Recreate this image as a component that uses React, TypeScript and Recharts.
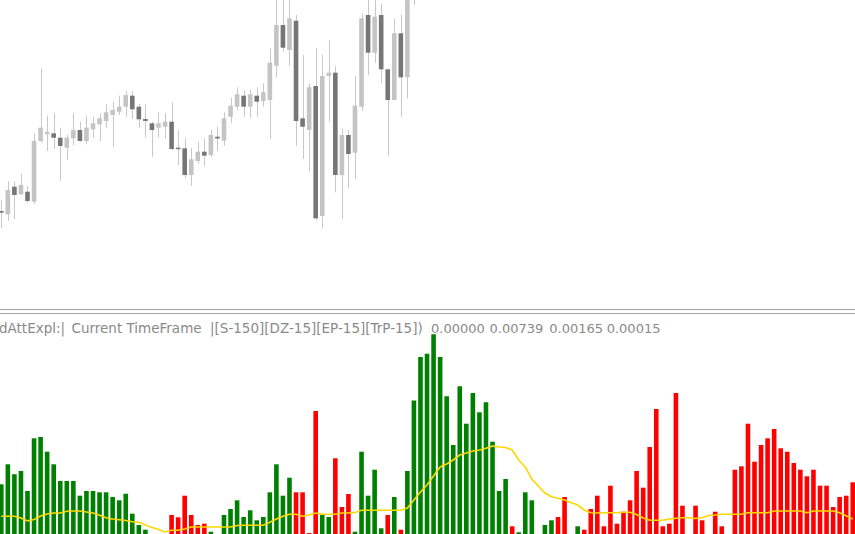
import React from 'react';
import { ComposedChart, Bar, Line, XAxis, YAxis, Cell } from 'recharts';

// ---- Indicator histogram (131 bars) ----
const strength = [
  49.7, 69.7, 59.7, 63, 43, 95.7, 97, 82.3, 69.7, 53,
  53, 53, 38.3, 43, 43, 41.7, 41.7, 37, 33.7, 40.3,
  20.3, 9, 4.3, 0, 0, 0, 19, 16.7, 38.3, 19,
  9, 10.3, 2.3, 0, 19, 25, 33.7, 17, 23.7, 13.7,
  17, 41.7, 69.7, 38.3, 56.3, 41.7, 41.7, 1, 123, 19,
  17, 75.7, 27, 40, 2.3, 82.3, 38.3, 64.3, 5.7, 19,
  37, 4.3, 63, 133.5, 177, 180.3, 199.7, 177, 137.7, 89,
  147.7, 110.3, 141, 121.7, 131.7, 92.3, 43, 55, 7.7, 1.7,
  41.7, 33.7, 0, 9, 13.7, 17, 37, 0, 7.7, 4.3,
  25, 38.3, 7.7, 48.3, 10.3, 22.3, 33.7, 63, 46.3, 87,
  125, 7.7, 10.3, 141, 28.3, 0, 28.3, 13.7, 0, 22.3,
  7.7, 0, 64.3, 67.7, 110.3, 72.3, 89, 95.7, 105, 85.7,
  82.3, 71, 64.3, 57.7, 64.3, 48.3, 48.3, 27, 37, 38.3,
  51.7,
];

// G = bullish (green), R = bearish (red), - = none
const direction =
  'GGGGGGGGGG' +
  'GGGGGGGGGG' +
  'GGG---RRRR' +
  'RRG-GGGGGG' +
  'GGGGGRRRRG' +
  'GRRRGGGGGR' +
  'GRGGGGGGGG' +
  'GGGGGGGGRG' +
  'GG-GGRR-GR' +
  'RRRRRRRRRR' +
  'RRRRR-RR-R' +
  'R-RRRRRRRR' +
  'RRRRRRRRRR' +
  'R';

const signal = [
  17.7, 17.7, 17.7, 16, 13, 14.5, 18, 20, 21, 21,
  22.7, 23, 23, 22, 21, 18.7, 16.3, 15, 14.3, 13.5,
  12.3, 11.7, 9, 6.5, 4.5, 2, 3.7, 3.7, 5, 7,
  7, 7, 7, 7, 7, 7, 8.5, 8.7, 8.7, 8.7,
  8.7, 11.7, 15, 17.7, 19.7, 19.7, 17.7, 19, 21, 19.7,
  19.7, 19.7, 21, 21, 21.5, 23.7, 23.7, 23.7, 23.7, 23.7,
  23.7, 23.7, 26, 34, 42, 49, 58, 67, 70, 74,
  79, 81, 83, 84, 85.7, 88, 87, 86.5, 84, 74,
  67, 55, 48, 41, 37.3, 35.7, 34, 31.5, 29, 24,
  21.3, 21, 21.3, 21.3, 21.3, 21.7, 21.7, 19.5, 16, 13.7,
  13.7, 13.7, 15, 15.7, 16.3, 16.3, 15.5, 16.3, 18.5, 19,
  19.7, 19.7, 19.7, 19.7, 21.3, 21.3, 21.3, 21.3, 23, 23,
  23, 23, 23, 21.3, 23, 23, 23, 23, 21.3, 18.3,
  15,
];

// ---- Price candles (first 64 visible) ----
const opens = [
  29, 25.7, 53.3, 45.7, 48.3, 38.3, 99, 105.7, 106.7, 102.3,
  92.3, 101.7, 110, 99, 110.7, 115.7, 119, 125, 128.3, 133.3,
  144.3, 133.3, 121, 116.7, 112.3, 113.3, 118.3, 92.3, 91.7, 65,
  79, 88.3, 85, 103.3, 99.3, 123.3, 133.3, 144.3, 133.3, 144.3,
  139, 140, 174.3, 215, 190, 219.3, 121.7, 110, 154, 24,
  164, 167.3, 65, 105, 87.3, 133.3, 225, 187.3, 225, 170.7,
  140, 206.7, 162.7, 250,
];
const highs = [
  40, 59, 58.3, 66, 54, 106.7, 171.7, 124.3, 126.7, 112.3,
  105, 126.7, 118.3, 124.3, 123.3, 126.7, 136, 138.3, 144.3, 149.3,
  149.3, 136, 135.7, 118.3, 127.7, 126.7, 137.7, 110, 101.7, 91.7,
  98.3, 101.7, 110, 113.3, 127.7, 142.3, 152.7, 150, 150.7, 152.7,
  156.7, 191.7, 245, 245, 246, 225, 185, 156.7, 191.7, 185,
  200, 174, 111.7, 110, 164, 226.7, 250, 250, 236, 170.7,
  221, 225, 265, 275,
];
const lows = [
  12, 19.3, 21, 45, 37.3, 36, 97.3, 89, 91, 59.3,
  80, 95, 98.3, 95.7, 102.3, 99, 112.3, 92.7, 125, 123.3,
  121, 112.3, 102.7, 83.3, 102.7, 101, 90, 75, 61.7, 54,
  76.7, 74, 83, 89, 94.3, 116.7, 130, 123.3, 121.7, 123.3,
  133.3, 101, 162.7, 188.3, 174.3, 94.3, 81, 68.3, 20, 11.7,
  118.3, 47.7, 20.7, 51.7, 61, 129, 165, 177.3, 156.7, 84.3,
  140, 123.3, 141.7, 235,
];
const closes = [
  27.3, 50, 45, 55, 39, 99, 112.3, 108.3, 102.3, 94,
  102.3, 110, 99, 112.3, 116.7, 121.7, 127.7, 130, 133.3, 145,
  130.7, 120.7, 119, 110, 116.7, 118.3, 91, 91, 65, 80.7,
  88.3, 84.3, 105, 101.5, 121.7, 134.3, 145.7, 133.3, 145.7, 138.3,
  147.7, 177.3, 215, 192.3, 221.7, 119, 113.3, 152.7, 21.7, 164,
  167.3, 65, 105, 86, 134.3, 221.7, 187.3, 223.3, 170.7, 140,
  206.7, 162.7, 250, 260,
];

const header = [
  { text: 'dAttExpl:|', x: -1, size: 13.5 },
  { text: 'Current TimeFrame', x: 71.5, size: 13.5 },
  { text: '|[S-150][DZ-15][EP-15][TrP-15])', x: 210, size: 13.5 },
  { text: '0.00000', x: 431, size: 13 },
  { text: '0.00739', x: 489.5, size: 13 },
  { text: '0.00165', x: 549.3, size: 13 },
  { text: '0.00015', x: 606.7, size: 13 },
];

const data = strength.map((v, i) => {
  const has = i < opens.length;
  return {
    i,
    strength: v,
    dir: direction[i],
    signal: signal[i],
    open: has ? opens[i] : null,
    high: has ? highs[i] : null,
    low: has ? lows[i] : null,
    close: has ? closes[i] : null,
    range: has ? [lows[i], highs[i]] : null,
  };
});

const LIGHT = '#c4c4c4';
const DARK = '#767676';
const WICK = '#c8c8c8';

const Candle = (props: any) => {
  const { x, y, width, height, payload } = props;
  if (!payload || payload.open == null || height == null) return null;
  const { open, close, high, low } = payload;
  const top = Math.min(y, y + height);
  const h = Math.abs(height);
  const k = high !== low ? h / (high - low) : 0;
  const yOf = (v: number) => top + (high - v) * k;
  const bull = close >= open;
  const bTop = yOf(Math.max(open, close));
  const bBot = yOf(Math.min(open, close));
  const cx = Math.round(x + width / 2) + 0.5;
  return (
    <g>
      <line x1={cx} x2={cx} y1={top} y2={top + h} stroke={WICK} strokeWidth={1} />
      <rect
        x={x}
        y={bTop}
        width={width}
        height={Math.max(1.5, bBot - bTop)}
        fill={bull ? LIGHT : DARK}
      />
    </g>
  );
};

const CHART_W = 858;

export default function App() {
  return (
    <div
      style={{
        position: 'fixed',
        left: 0,
        top: 0,
        width: 855,
        height: 534,
        overflow: 'hidden',
        background: '#ffffff',
      }}
    >
      <div style={{ position: 'absolute', left: -2, top: 0 }}>
        <ComposedChart
          width={CHART_W}
          height={240}
          data={data}
          margin={{ top: 0, right: 0, bottom: 0, left: 0 }}
          barCategoryGap={0}
        >
          <XAxis dataKey="i" hide type="category" />
          <YAxis hide domain={[0, 240]} allowDataOverflow />
          <Bar
            dataKey="range"
            barSize={4.6}
            isAnimationActive={false}
            shape={Candle}
          />
        </ComposedChart>
      </div>

      <div style={{ position: 'absolute', left: 0, top: 309, width: 855, height: 1, background: '#a0a0a0' }} />
      <div style={{ position: 'absolute', left: 0, top: 313, width: 855, height: 1, background: '#a6a6a6' }} />

      <svg
        width={855}
        height={20}
        style={{ position: 'absolute', left: 0, top: 318 }}
      >
        {header.map((h) => (
          <text
            key={h.text}
            x={h.x}
            y={15.3}
            fontFamily="DejaVu Sans"
            fontSize={h.size}
            fill="#8a8a8a"
          >
            {h.text}
          </text>
        ))}
      </svg>

      <div style={{ position: 'absolute', left: -2, top: 319 }}>
        <ComposedChart
          width={CHART_W}
          height={215}
          data={data}
          margin={{ top: 0, right: 0, bottom: 0, left: 0 }}
        >
          <XAxis dataKey="i" hide type="category" />
          <YAxis hide domain={[0, 215]} allowDataOverflow />
          <Bar dataKey="strength" barSize={4.6} isAnimationActive={false}>
            {data.map((d) => (
              <Cell
                key={d.i}
                fill={d.dir === 'G' ? '#008000' : d.dir === 'R' ? '#ff0000' : 'none'}
              />
            ))}
          </Bar>
          <Line
            dataKey="signal"
            type="linear"
            stroke="#ffd700"
            strokeWidth={1.6}
            dot={false}
            activeDot={false}
            isAnimationActive={false}
          />
        </ComposedChart>
      </div>
    </div>
  );
}
